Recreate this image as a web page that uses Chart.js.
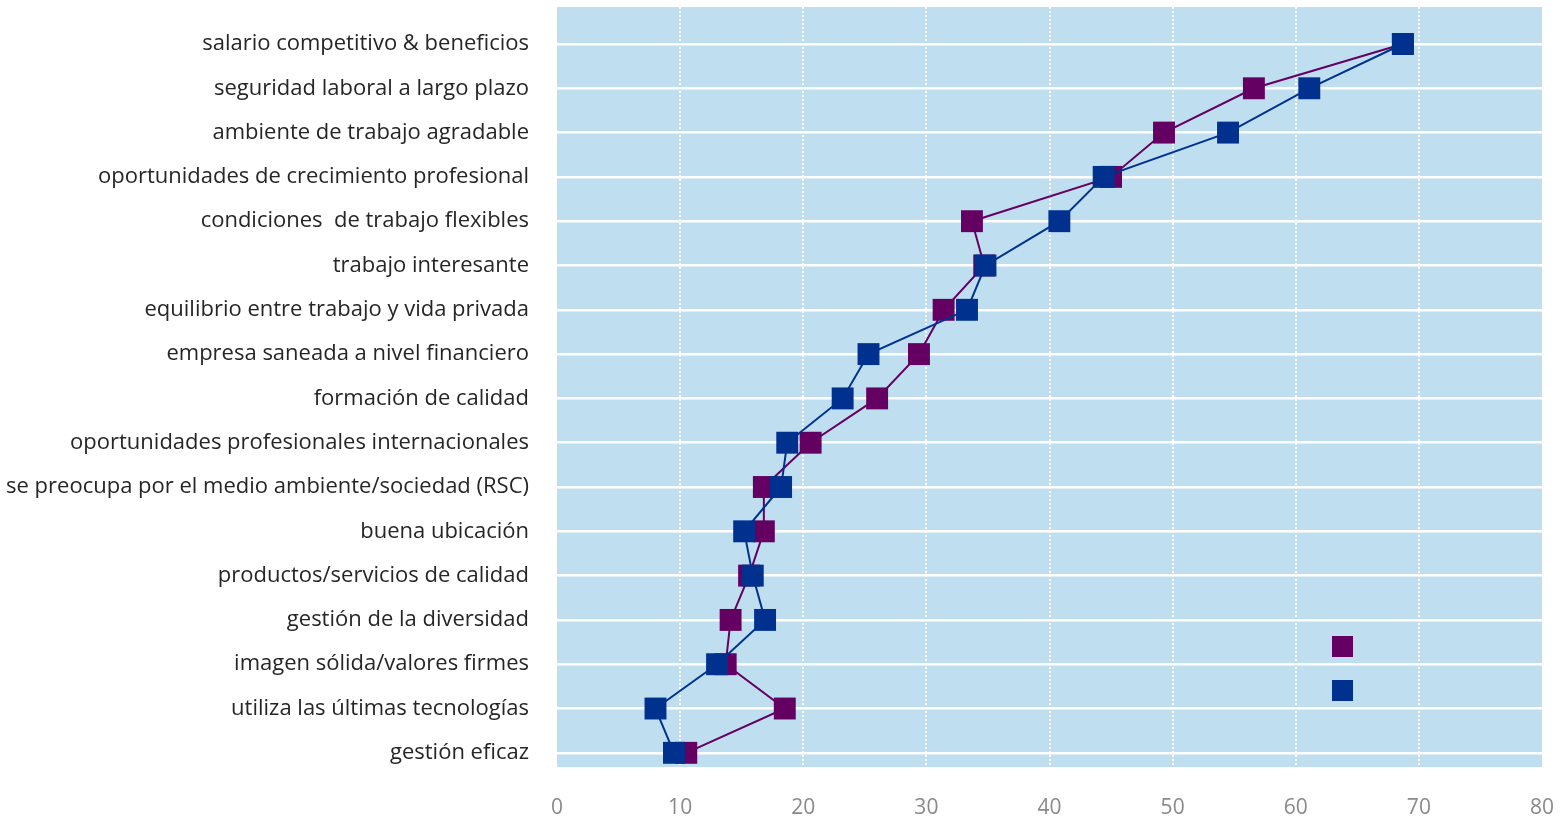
<!DOCTYPE html>
<html>
<head>
<meta charset="utf-8">
<script src="https://cdn.jsdelivr.net/npm/chart.js@4"></script>
<style>
  html, body { margin: 0; padding: 0; background: #ffffff; }
  #wrap { width: 1568px; height: 818px; position: relative; }
</style>
</head>
<body>
<div id="wrap"><canvas id="chart" width="1568" height="818"></canvas></div>
<script>
// Factors, listed top to bottom
const categories = [
  'salario competitivo & beneficios',
  'seguridad laboral a largo plazo',
  'ambiente de trabajo agradable',
  'oportunidades de crecimiento profesional',
  'condiciones  de trabajo flexibles',
  'trabajo interesante',
  'equilibrio entre trabajo y vida privada',
  'empresa saneada a nivel financiero',
  'formación de calidad',
  'oportunidades profesionales internacionales',
  'se preocupa por el medio ambiente/sociedad (RSC)',
  'buena ubicación',
  'productos/servicios de calidad',
  'gestión de la diversidad',
  'imagen sólida/valores firmes',
  'utiliza las últimas tecnologías',
  'gestión eficaz'
];

// Percentages per factor, one array per series
const purpleValues = [68.7, 56.6, 49.3, 45.0, 33.7, 34.7, 31.4, 29.4, 26.0, 20.6, 16.8, 16.8, 15.6, 14.1, 13.7, 18.5, 10.5];
const blueValues   = [68.7, 61.1, 54.5, 44.4, 40.8, 34.8, 33.3, 25.3, 23.2, 18.7, 18.2, 15.2, 15.9, 16.9, 13.0, 8.0, 9.5];

// Value axis ticks
const xTicks = [0, 10, 20, 30, 40, 50, 60, 70, 80];

const PURPLE = '#630062';
const BLUE = '#00318F';
const PLOT_BG = '#BFDFF1';

const toPoints = vals => vals.map((v, i) => ({ x: v, y: i }));

// Light blue plot background
const plotBackground = {
  id: 'plotBackground',
  beforeDraw(chart) {
    const { ctx, chartArea: a } = chart;
    ctx.save();
    ctx.fillStyle = PLOT_BG;
    ctx.fillRect(a.left, a.top, a.right - a.left, a.bottom - a.top);
    ctx.restore();
  }
};

// Legend keys (squares only) inside the lower right of the plot
const squareLegend = {
  id: 'squareLegend',
  afterDraw(chart) {
    const { ctx, chartArea: a } = chart;
    const size = 21;
    const cx = a.right - 200;
    const rows = [a.bottom - 121, a.bottom - 77];
    ctx.save();
    chart.data.datasets.forEach((ds, i) => {
      ctx.fillStyle = ds.backgroundColor;
      ctx.fillRect(Math.round(cx - size / 2), Math.round(rows[i] - size / 2), size, size);
    });
    ctx.restore();
  }
};

const noEdgePadding = scale => {
  scale.paddingTop = 0;
  scale.paddingBottom = 0;
  scale.paddingLeft = 0;
  scale.paddingRight = 0;
};

new Chart(document.getElementById('chart'), {
  type: 'line',
  data: {
    datasets: [
      {
        label: 'serie 1',
        data: toPoints(purpleValues),
        borderColor: PURPLE,
        backgroundColor: PURPLE,
        borderWidth: 2,
        pointStyle: 'rect',
        pointRadius: 15.5,
        pointHoverRadius: 15.5,
        pointBorderWidth: 0,
        tension: 0,
        order: 1
      },
      {
        label: 'serie 2',
        data: toPoints(blueValues),
        borderColor: BLUE,
        backgroundColor: BLUE,
        borderWidth: 2,
        pointStyle: 'rect',
        pointRadius: 15.5,
        pointHoverRadius: 15.5,
        pointBorderWidth: 0,
        tension: 0,
        order: 0
      }
    ]
  },
  options: {
    responsive: false,
    animation: false,
    layout: { autoPadding: false, padding: { top: 7, right: 26, bottom: 0, left: 0 } },
    plugins: {
      legend: { display: false },
      tooltip: { enabled: false }
    },
    scales: {
      x: {
        type: 'linear',
        position: 'bottom',
        min: xTicks[0],
        max: xTicks[xTicks.length - 1],
        afterBuildTicks(scale) { scale.ticks = xTicks.map(v => ({ value: v })); },
        afterFit(scale) { scale.height = 51; noEdgePadding(scale); },
        border: { display: false, dash: [2, 2] },
        grid: {
          color: ctx => (ctx.tick && (ctx.tick.value === xTicks[0] || ctx.tick.value === xTicks[xTicks.length - 1])) ? 'rgba(0,0,0,0)' : '#ffffff',
          lineWidth: 2,
          drawTicks: false
        },
        ticks: {
          padding: 28,
          color: '#8a8a8a',
          font: { family: 'Open Sans', size: 21 }
        }
      },
      y: {
        type: 'linear',
        reverse: true,
        min: -0.835,
        max: 16.32,
        afterBuildTicks(scale) { scale.ticks = categories.map((_, i) => ({ value: i })); },
        afterFit(scale) { scale.width = 557; noEdgePadding(scale); },
        border: { display: false },
        grid: {
          color: '#ffffff',
          lineWidth: 2.5,
          drawTicks: false
        },
        ticks: {
          padding: 28,
          color: '#262626',
          font: { family: 'Open Sans', size: 22 },
          callback: v => categories[v]
        }
      }
    }
  },
  plugins: [plotBackground, squareLegend]
});
</script>
</body>
</html>
